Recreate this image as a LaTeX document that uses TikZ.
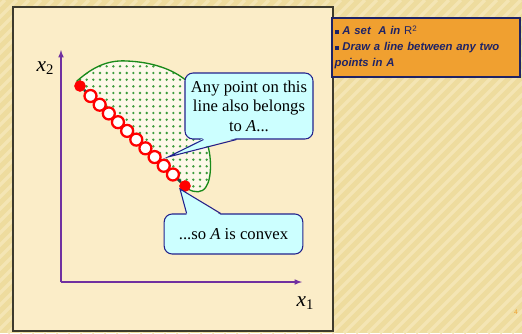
\documentclass[tikz,border=0pt]{standalone}
\usepackage{fontspec}
\setmainfont{Liberation Serif}
\newfontfamily\arialfont{Liberation Sans}
\usetikzlibrary{arrows, calc, patterns.meta}
\definecolor{slide-bg}{HTML}{EEDC9E}
\definecolor{slide-stripe}{HTML}{F4E5B4}
\definecolor{panel-cream}{HTML}{FBEDC8}
\definecolor{axis-purple}{HTML}{7030A0}
\definecolor{set-green}{HTML}{1A8A1A}
\definecolor{bubble-cyan}{HTML}{CCFFFF}
\definecolor{bubble-navy}{HTML}{22228C}
\definecolor{note-orange}{HTML}{F0A030}
\definecolor{note-navy}{HTML}{1F2366}
\definecolor{line-teal}{HTML}{1F4A4A}
\newcommand{\notebullet}{\rule[0.8pt]{3pt}{3pt}}
\newcommand{\axlabel}[1]{\fontsize{16}{16}\selectfont\textit{x}\raisebox{-0.35ex}{\fontsize{11}{11}\selectfont #1}}

\begin{document}
\begin{tikzpicture}[x=0.75pt, y=-0.75pt,
    bubble/.style={draw=bubble-navy, fill=bubble-cyan, rounded corners=6pt, line width=0.8pt, align=center, inner sep=2pt, font=\fontsize{12.5}{14.6}\selectfont},
    pointer/.style={draw=bubble-navy, line width=0.8pt, line join=miter},
    ring/.style={circle, draw=red, fill=white, line width=1.7pt, minimum size=9pt, inner sep=0pt},
    endpt/.style={circle, fill=red, minimum size=8.5pt, inner sep=0pt},
    axis/.style={-latex, axis-purple, line width=0.9pt},
    setA/.style={draw=set-green, line width=1pt, preaction={fill=panel-cream!40!white}, pattern={Dots[distance=5pt, radius=1pt]}, pattern color=set-green!85},
    note/.style={draw=note-navy, line width=1.3pt, fill=note-orange, text=note-navy, minimum width=141pt, minimum height=44pt, text width=137pt, inner sep=2pt, align=left, font=\arialfont\fontsize{8.5}{12}\selectfont\bfseries\itshape}
]
    \useasboundingbox (0,0) rectangle (522,333);
    % slide background
    \begin{scope}
        \clip (0,0) rectangle (522,333);
        \fill[slide-bg] (0,0) rectangle (522,333);
        \foreach \s in {-340,-328,...,530}
            \draw[slide-stripe, line width=2.6pt] (\s,333) -- ++(333,-333);
    \end{scope}
    \draw[fill=panel-cream, draw=black!75!olive, line width=1.4pt] (13,7) rectangle (333,331);

    % axes
    \coordinate (origin) at (61,282);
    \coordinate (ytop) at (61,50);
    \coordinate (xend) at (302,282);
    \draw[axis] (origin) -- (ytop);
    \draw[axis] (origin) -- (xend);
    \node (xtwo) at (45,68) {\axlabel{2}};
    \node (xone) at (305,303) {\axlabel{1}};

    % the set A
    \draw[setA] (77,81) .. controls (95,65) and (110,60) .. (127,61)
        .. controls (150,62) and (172,68) .. (188,82)
        .. controls (200,100) and (203,125) .. (206,140)
        .. controls (212,155) and (212,178) .. (206,187)
        .. controls (202,193) and (195,193) .. (188,189)
        -- (80,86) -- cycle;

    % line between two points
    \node (ptA) [endpt] at (80,86) {};
    \node (ptB) [endpt] at (185,186) {};
    \draw[line-teal, line width=2pt] (ptA) -- (ptB);
    \node [endpt] at (ptA) {};
    \node [endpt] at (ptB) {};
    \foreach \i in {0,...,9}
        \node (ring\i) [ring] at ($(ptA)!{0.1+0.0872*\i}!(ptB)$) {};

    % callouts
    \node (any) [bubble, minimum width=96pt, minimum height=49.5pt] at (249,106)
        {Any point on this\\line also belongs\\to \textit{A}...};
    \coordinate (tipA) at (168,157);
    \fill[bubble-cyan] ($(any.south west)+(19,-1.5)$) -- (tipA) -- ($(any.south west)+(52,-1.5)$) -- cycle;
    \draw[pointer] ($(any.south west)+(19,0)$) -- (tipA) -- ($(any.south west)+(52,0)$);

    \node (convex) [bubble, minimum width=104pt, minimum height=30pt] at (233.5,234)
        {...so \textit{A} is convex};
    \coordinate (tipB) at (180,189);
    \fill[bubble-cyan] ($(convex.north west)+(23,1.5)$) -- (tipB) -- ($(convex.north west)+(57,1.5)$) -- cycle;
    \draw[pointer] ($(convex.north west)+(23,0)$) -- (tipB) -- ($(convex.north west)+(57,0)$);

    % notes box
    \node (notes) [note] at (426,47.5)
        {\notebullet\ A set\ \ A in {\mdseries\upshape R\textsuperscript{2}}\\
         \notebullet\ Draw a line between any two\\
         points in A};

    \node (pagenum) at (516,312) {\arialfont\fontsize{5}{5}\selectfont\color{note-orange}4};
\end{tikzpicture}
\end{document}
